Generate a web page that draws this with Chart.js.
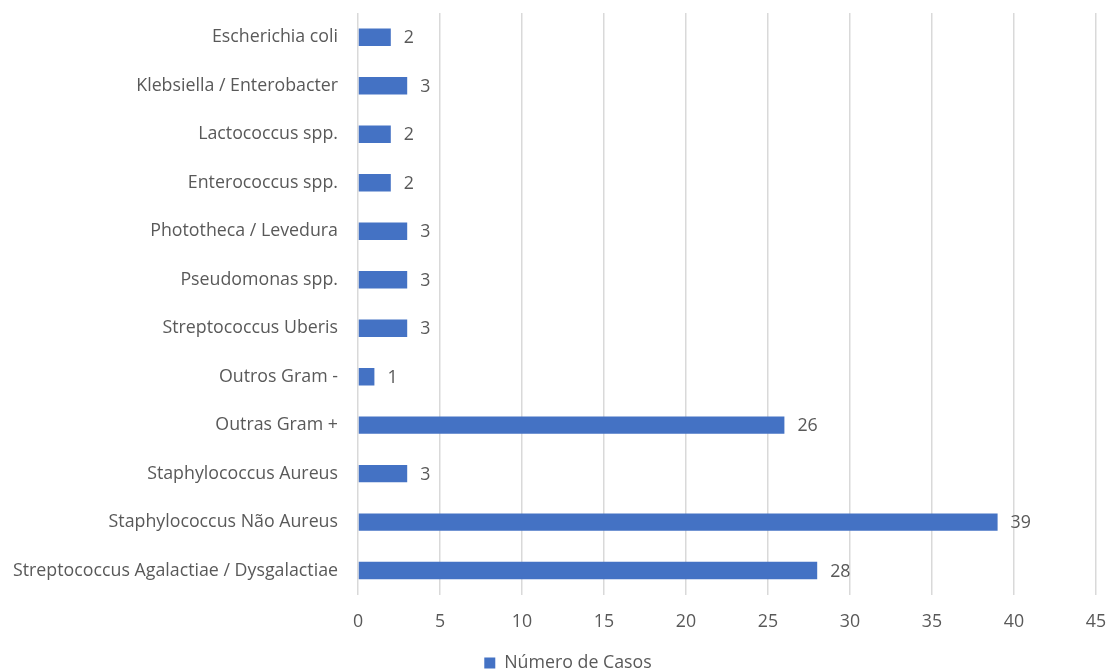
<!DOCTYPE html>
<html>
<head>
<meta charset="utf-8">
<script src="https://cdn.jsdelivr.net/npm/chart.js@4/dist/chart.umd.min.js"></script>
<style>
  html, body { margin: 0; padding: 0; background: #fff; }
  #wrap { width: 1107px; height: 671px; position: relative; }
</style>
</head>
<body>
<div id="wrap"><canvas id="grafico"></canvas></div>
<script>
const categorias = [
  "Escherichia coli",
  "Klebsiella / Enterobacter",
  "Lactococcus spp.",
  "Enterococcus spp.",
  "Phototheca / Levedura",
  "Pseudomonas spp.",
  "Streptococcus Uberis",
  "Outros Gram -",
  "Outras Gram +",
  "Staphylococcus Aureus",
  "Staphylococcus Não Aureus",
  "Streptococcus Agalactiae / Dysgalactiae"
];
const casos = [2, 3, 2, 2, 3, 3, 3, 1, 26, 3, 39, 28];
const ticksX = [0, 5, 10, 15, 20, 25, 30, 35, 40, 45];

const corTexto = "#595959";
const fonte = "'Open Sans', 'Noto Sans', sans-serif";
const tamFonte = 17.8;

// escreve o valor no fim de cada barra
const rotulosBarras = {
  id: "rotulosBarras",
  afterLayout(chart) {
    // legenda um pouco à direita, como no original
    if (chart.legend) {
      chart.legend.left += 20;
      chart.legend.right += 20;
    }
  },
  afterDatasetsDraw(chart) {
    const ctx = chart.ctx;
    const meta = chart.getDatasetMeta(0);
    ctx.save();
    ctx.fillStyle = corTexto;
    ctx.font = tamFonte + "px " + fonte;
    ctx.textBaseline = "middle";
    ctx.textAlign = "left";
    meta.data.forEach((bar, i) => {
      ctx.fillText(String(casos[i]), bar.x + 13, bar.y + 1);
    });
    ctx.restore();
  }
};

new Chart(document.getElementById("grafico"), {
  type: "bar",
  data: {
    labels: categorias,
    datasets: [{
      label: "Número de Casos",
      data: casos,
      backgroundColor: "#4472C4",
      barPercentage: 0.36,
      categoryPercentage: 1
    }]
  },
  options: {
    indexAxis: "y",
    responsive: true,
    maintainAspectRatio: false,
    animation: false,
    layout: { padding: { top: 13, right: 11, bottom: -11, left: 0 } },
    plugins: {
      legend: {
        position: "bottom",
        labels: {
          color: corTexto,
          font: { family: fonte, size: tamFonte },
          boxWidth: 11,
          boxHeight: 11,
          padding: 4
        }
      },
      tooltip: { enabled: false }
    },
    scales: {
      x: {
        min: 0,
        max: 45,
        afterBuildTicks: axis => { axis.ticks = ticksX.map(v => ({ value: v })); },
        afterFit: axis => { axis.paddingLeft = 0; axis.paddingRight = 0; axis.height += 2; },
        grid: { color: "#d9d9d9", lineWidth: 1.5, drawTicks: false },
        border: { display: false },
        ticks: { color: corTexto, font: { family: fonte, size: tamFonte }, padding: 16 }
      },
      y: {
        grid: { display: false, drawTicks: false },
        border: { display: false },
        ticks: { color: corTexto, font: { family: fonte, size: tamFonte }, padding: 20 },
        afterFit: axis => { axis.width = 358; axis.paddingTop = 0; axis.paddingBottom = 0; }
      }
    }
  },
  plugins: [rotulosBarras]
});
</script>
</body>
</html>
